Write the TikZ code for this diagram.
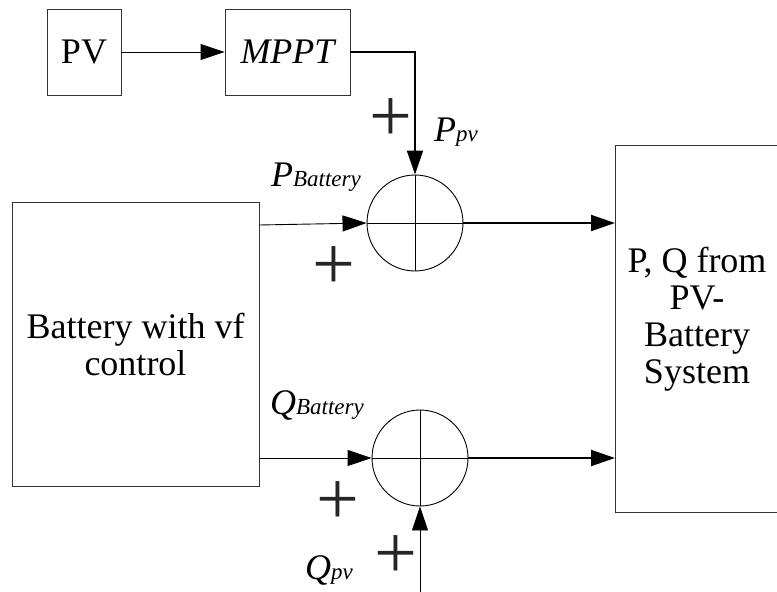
\documentclass[tikz,border=0pt]{standalone}
\usepackage{fontspec}
\setmainfont{LiberationSerif}[Extension=.ttf, UprightFont=*-Regular, ItalicFont=*-Italic, BoldFont=*-Bold, BoldItalicFont=*-BoldItalic]
\usetikzlibrary{arrows.meta}
\tikzset{
  blk/.style={draw=black!80, line width=0.9pt, inner sep=0pt},
  sumc/.style={draw, circle, line width=0.9pt, minimum size=96pt, inner sep=0pt},
  thin/.style={line width=0.9pt},
  thick2/.style={line width=2pt},
  arr/.style={-{Triangle[length=24pt,width=16pt]}},
  big/.style={font=\fontsize{36}{37}\selectfont},
  lbl/.style={font=\fontsize{36}{37}\selectfont\itshape, inner sep=0pt},
  plussign/.style={font=\fontsize{76}{76}\selectfont, inner sep=0pt, text=black!85},
}
\newcommand{\subtxt}[1]{{\fontsize{23}{23}\selectfont #1}}
\begin{document}
\begin{tikzpicture}[x=1pt,y=-1pt]
\useasboundingbox (0,0) rectangle (777,592);
% blocks
\node[blk, minimum width=74pt, minimum height=86pt, big] (pv) at (84,52) {PV};
\node[blk, minimum width=125pt, minimum height=86pt, big, font=\fontsize{36}{37}\selectfont\itshape] (mppt) at (287.5,52) {MPPT};
\node[blk, minimum width=247pt, minimum height=284pt, big, align=center] (bat) at (135.5,344) {Battery with vf\\control};
\node[big, align=center, inner sep=0pt] (sys) at (697,319) {P, Q from\\PV-\\Battery\\System};
\draw[blk] (777,145) -- (615,145) -- (615,512) -- (777,512);
\coordinate (sysp) at (615,223);
\coordinate (sysq) at (615,458);
% summing junctions
\node[sumc] (s1) at (415,223) {};
\node[sumc] (s2) at (420,458) {};
\draw[thin] (s1.north) -- (s1.south) (s1.west) -- (s1.east);
\draw[thin] (s2.north) -- (s2.south) (s2.west) -- (s2.east);
% connectors
\draw[thin, arr] (pv.east) -- (mppt.west);
\draw[thick2, arr] (mppt.east) -| (s1.north);
\coordinate (b1) at (259,225);
\coordinate (b2) at (259,458);
\draw[thin, arr] (b1) -- (s1.west);
\draw[thin, arr] (b2) -- (s2.west);
\coordinate (qin) at (420,592);
\draw[thin, arr] (qin) -- (s2.south);
\draw[thick2, arr] (s1.east) -- (sysp);
\draw[thick2, arr] (s2.east) -- (sysq);
% labels
\node[lbl] (lpb) at (316,177) {P\subtxt{Battery}};
\node[lbl] (lppv) at (456,132) {P\subtxt{pv}};
\node[lbl] (lqb) at (317,405) {Q\subtxt{Battery}};
\node[lbl] (lqpv) at (329,570) {Q\subtxt{pv}};
% plus signs
\node[plussign] (p1) at (391,120) {+};
\node[plussign] (p2) at (334,268) {+};
\node[plussign] (p3) at (338,503) {+};
\node[plussign] (p4) at (396,557) {+};
\end{tikzpicture}
\end{document}
